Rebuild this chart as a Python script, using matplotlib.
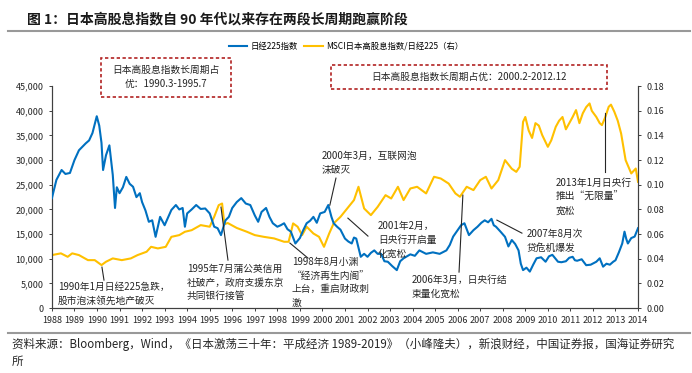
import numpy as np
import matplotlib
matplotlib.use("Agg")
import matplotlib.pyplot as plt
from matplotlib.lines import Line2D
from matplotlib.patches import Rectangle
from matplotlib.ticker import FuncFormatter

plt.rcParams['font.family'] = ['Noto Sans CJK SC', 'DejaVu Sans']

# 日经225指数 (左轴)
nk_t = [1988.0, 1988.2, 1988.43, 1988.6, 1988.8, 1989.0, 1989.2, 1989.5, 1989.65, 1989.8, 1989.99,
        1990.1, 1990.2, 1990.27, 1990.4, 1990.55, 1990.7, 1990.8, 1990.88, 1991.0, 1991.15,
        1991.3, 1991.45, 1991.6, 1991.75, 1991.9, 1992.0, 1992.15, 1992.3, 1992.45, 1992.6,
        1992.8, 1993.0, 1993.3, 1993.5, 1993.65, 1993.8, 1993.9, 1994.0, 1994.2, 1994.4,
        1994.6, 1994.8, 1995.0, 1995.2, 1995.35, 1995.5, 1995.7, 1995.85, 1996.0, 1996.2,
        1996.4, 1996.6, 1996.8, 1997.0, 1997.15, 1997.3, 1997.5, 1997.65, 1997.8, 1998.0,
        1998.15, 1998.3, 1998.45, 1998.6, 1998.8, 1999.0, 1999.15, 1999.3, 1999.45, 1999.6,
        1999.75, 1999.9, 2000.1, 2000.26, 2000.4, 2000.5, 2000.65, 2000.8, 2001.0, 2001.15,
        2001.3, 2001.4, 2001.5, 2001.7, 2001.85, 2002.0, 2002.15, 2002.3, 2002.45, 2002.6,
        2002.75, 2002.9, 2003.1, 2003.3, 2003.45, 2003.6, 2003.9, 2004.1, 2004.3, 2004.6,
        2004.9, 2005.2, 2005.5, 2005.65, 2005.8, 2006.0, 2006.15, 2006.3, 2006.5, 2006.7,
        2006.88, 2007.05, 2007.2, 2007.35, 2007.5, 2007.6, 2007.7, 2007.9, 2008.1, 2008.25,
        2008.4, 2008.55, 2008.7, 2008.8, 2008.9, 2009.05, 2009.2, 2009.35, 2009.5, 2009.7,
        2009.9, 2010.05, 2010.2, 2010.45, 2010.6, 2010.8, 2010.95, 2011.1, 2011.2, 2011.3,
        2011.5, 2011.7, 2011.9, 2012.15, 2012.3, 2012.45, 2012.6, 2012.75, 2012.9, 2013.0,
        2013.15, 2013.3, 2013.4, 2013.48, 2013.55, 2013.7, 2013.85, 2014.0]
nk_v = [22300, 26000, 28000, 27200, 27400, 30000, 32000, 33400, 34000, 35500, 38900,
        37000, 33500, 28000, 31000, 33000, 27000, 20300, 24500, 23300, 24500,
        26600, 25200, 24600, 22500, 23300, 21500, 19800, 17500, 17800, 14450,
        18500, 16800, 19900, 20900, 20000, 20300, 16500, 19200, 20000, 20900,
        20100, 20200, 19200, 16500, 16200, 14800, 17800, 18500, 20300, 21500,
        22300, 21200, 20900, 18800, 17500, 19500, 20300, 18500, 17200, 16500,
        16800, 17200, 16000, 15500, 13100, 14200, 15800, 17200, 17700, 18500,
        17300, 19200, 19500, 20900, 18500, 17200, 16500, 15900, 14100, 13500,
        13100, 14300, 14100, 10400, 11000, 10400, 11200, 11700, 11000, 11000,
        9500, 9400, 8500, 7700, 9500, 10100, 10900, 10600, 11700, 11000,
        11300, 11000, 11700, 12800, 14500, 15800, 16800, 17200, 14800, 15800,
        16500, 17300, 17800, 17400, 18100, 16800, 16500, 15500, 14450, 12500,
        13800, 13000, 11700, 9000, 7700, 8200, 7400, 8800, 10100, 10300,
        9400, 10500, 10800, 9400, 9300, 9500, 10200, 10400, 9700, 9600,
        9900, 8700, 8800, 9400, 10100, 8400, 9000, 8800, 9400, 9700,
        11300, 13100, 15500, 14000, 13100, 14200, 14500, 16200]

# MSCI日本高股息指数/日经225 (右轴)
rt_t = [1988.0, 1988.4, 1988.7, 1988.9, 1989.2, 1989.6, 1989.9, 1990.2, 1990.4, 1990.7,
        1991.1, 1991.5, 1991.8, 1992.2, 1992.4, 1992.7, 1993.05, 1993.3, 1993.65, 1993.9,
        1994.2, 1994.6, 1995.0, 1995.2, 1995.4, 1995.55, 1995.65, 1995.8, 1996.2, 1996.65,
        1997.0, 1997.4, 1997.86, 1998.3, 1998.5, 1998.7, 1998.9, 1999.1, 1999.3, 1999.6,
        1999.85, 2000.07, 2000.3, 2000.5, 2000.8, 2001.1, 2001.4, 2001.6, 2001.85, 2002.15,
        2002.45, 2002.8, 2003.05, 2003.35, 2003.6, 2003.9, 2004.2, 2004.6, 2004.95, 2005.25,
        2005.6, 2005.9, 2006.1, 2006.4, 2006.7, 2007.0, 2007.25, 2007.5, 2007.8, 2008.1,
        2008.4, 2008.6, 2008.75, 2008.9, 2009.0, 2009.15, 2009.3, 2009.45, 2009.6, 2009.75,
        2010.0, 2010.15, 2010.35, 2010.5, 2010.65, 2010.8, 2010.95, 2011.1, 2011.25, 2011.4,
        2011.55, 2011.7, 2011.85, 2011.95, 2012.15, 2012.3, 2012.4, 2012.55, 2012.7, 2012.8,
        2012.95, 2013.1, 2013.25, 2013.45, 2013.7, 2013.9, 2014.0]
rt_v = [0.043, 0.0444, 0.0416, 0.0444, 0.043, 0.0389, 0.0389, 0.0349, 0.0376, 0.0403,
        0.0389, 0.0403, 0.043, 0.0457, 0.0497, 0.0484, 0.0497, 0.0578, 0.0592, 0.0619,
        0.0632, 0.0673, 0.066, 0.0741, 0.0835, 0.0848, 0.068, 0.069, 0.065, 0.0619,
        0.0592, 0.0578, 0.0565, 0.0538, 0.0538, 0.0687, 0.066, 0.0592, 0.066, 0.0605,
        0.0578, 0.0497, 0.0605, 0.0687, 0.074, 0.0808, 0.0876, 0.0984, 0.0808, 0.0754,
        0.0821, 0.0916, 0.0889, 0.0984, 0.0876, 0.097, 0.0984, 0.093, 0.1065, 0.1051,
        0.101, 0.093, 0.0903, 0.0984, 0.0957, 0.1038, 0.1065, 0.097, 0.1038, 0.12,
        0.113, 0.1105, 0.1146, 0.151, 0.155, 0.144, 0.138, 0.15, 0.148, 0.1403,
        0.1308, 0.136, 0.147, 0.152, 0.155, 0.145, 0.15, 0.155, 0.1606, 0.15,
        0.158, 0.163, 0.166, 0.16, 0.155, 0.15, 0.1484, 0.155, 0.1633, 0.165,
        0.1592, 0.152, 0.1416, 0.12, 0.1092, 0.1132, 0.1024]

years = list(range(1988, 2015))

blue = '#0070C0'
yellow = '#FFC000'
txt = '#262626'

fig = plt.figure(figsize=(6.92, 3.73), dpi=100)
ax = fig.add_axes([0.075, 0.174, 0.847, 0.595])
ax2 = ax.twinx()

ax.plot(nk_t, nk_v, color=blue, lw=1.5, zorder=3)
ax2.plot(rt_t, rt_v, color=yellow, lw=1.5, zorder=2)
ax.set_zorder(ax2.get_zorder() + 1)
ax.patch.set_visible(False)

ax.set_xlim(1988, 2014)
ax.set_ylim(0, 45000)
ax2.set_ylim(0, 0.18)
ax.set_xticks(years)
ax.set_xticklabels([str(y) for y in years], fontsize=6.5)
ax.set_yticks(range(0, 45001, 5000))
ax.yaxis.set_major_formatter(FuncFormatter(lambda v, p: f'{int(v):,}'))
ax2.set_yticks(np.arange(0, 0.181, 0.02))
ax2.yaxis.set_major_formatter(FuncFormatter(lambda v, p: f'{v:.2f}'))
for a in (ax, ax2):
    a.spines['top'].set_visible(False)
    for s in ('left', 'right', 'bottom'):
        a.spines[s].set_color('#404040')
        a.spines[s].set_linewidth(0.8)
    a.tick_params(labelsize=6.5, length=2.5, width=0.7, colors='#404040', labelcolor=txt)

# annotations: (line start, line end, text pos, text)
notes = [
    ((1990.22, 8310), (1990.31, 5680), (1988.27, 5270), '1990年1月日经225急跌，\n股市泡沫领先地产破灭'),
    ((1995.5, 20470), (1995.81, 9730), (1993.99, 8920), '1995年7月蒲公英信用\n社破产，政府支援东京\n共同银行接管'),
    ((1998.56, 13180), (1999.36, 10135), (1998.65, 10340), '1998年8月小渊\n“经济再生内阁”\n上台，重启财政刺\n激'),
    ((2000.33, 20880), (2000.6, 26350), (1999.98, 31820), '2000年3月，互联网泡\n沫破灭'),
    ((2001.13, 18240), (2002.02, 14600), (2002.46, 17630), '2001年2月，\n日央行开启量\n化宽松'),
    ((2006.23, 22900), (2006.06, 7300), (2003.97, 6690), '2006年3月，日央行结\n束量化宽松'),
    ((2007.74, 17840), (2008.85, 15200), (2009.07, 16010), '2007年8月次\n贷危机爆发'),
    ((2012.53, 39530), (2012.53, 27570), (2010.36, 26350), '2013年1月日央行\n推出“无限量”\n宽松'),
]
for p0, p1, pt, s in notes:
    ax.plot([p0[0], p1[0]], [p0[1], p1[1]], color='#262626', lw=0.8, zorder=4)
    ax.text(pt[0], pt[1], s, fontsize=7, color=txt, va='top', ha='left',
            linespacing=1.45, zorder=5)

# red dashed boxes
fig.patches.append(Rectangle((101 / 692, 1 - 97 / 373), 130 / 692, 39 / 373,
                             transform=fig.transFigure, fill=False, ec='#B22222',
                             ls=(0, (2, 1.5)), lw=1.2))
fig.text(166 / 692, 1 - 77 / 373, '日本高股息指数长周期占\n优：1990.3-1995.7', fontsize=7,
         ha='center', va='center', color=txt, linespacing=1.6)
fig.patches.append(Rectangle((331 / 692, 1 - 89 / 373), 276 / 692, 24 / 373,
                             transform=fig.transFigure, fill=False, ec='#B22222',
                             ls=(0, (2, 1.5)), lw=1.2))
fig.text(469 / 692, 1 - 77 / 373, '日本高股息指数长周期占优：2000.2-2012.12', fontsize=7,
         ha='center', va='center', color=txt)

# legend
handles = [Line2D([], [], color=blue, lw=1.5), Line2D([], [], color=yellow, lw=1.5)]
fig.legend(handles, ['日经225指数', 'MSCI日本高股息指数/日经225（右）'], loc='center',
           bbox_to_anchor=(346 / 692, 1 - 46 / 373), ncol=2, frameon=False,
           fontsize=6, handlelength=2.2, columnspacing=0.8, handletextpad=0.4)

# title and footer
fig.text(27 / 692, 1 - 19 / 373, '图 1：日本高股息指数自 90 年代以来存在两段长周期跑赢阶段',
         fontsize=10, fontweight='bold', va='center', ha='left', color='#1a1a1a')
fig.add_artist(Line2D([8 / 692, 690 / 692], [1 - 31 / 373] * 2, color='#999999', lw=1.5,
                      transform=fig.transFigure))
fig.add_artist(Line2D([8 / 692, 690 / 692], [1 - 333 / 373] * 2, color='#999999', lw=1.5,
                      transform=fig.transFigure))
fig.text(12 / 692, 1 - 344 / 373,
         '资料来源：Bloomberg，Wind，《日本激荡三十年：平成经济 1989-2019》（小峰隆夫），新浪财经，中国证券报，国海证券研究',
         fontsize=8.3, va='center', ha='left', color=txt)
fig.text(12 / 692, 1 - 361 / 373, '所', fontsize=8.3, va='center', ha='left', color=txt)

fig.savefig('out.png', dpi=100)
